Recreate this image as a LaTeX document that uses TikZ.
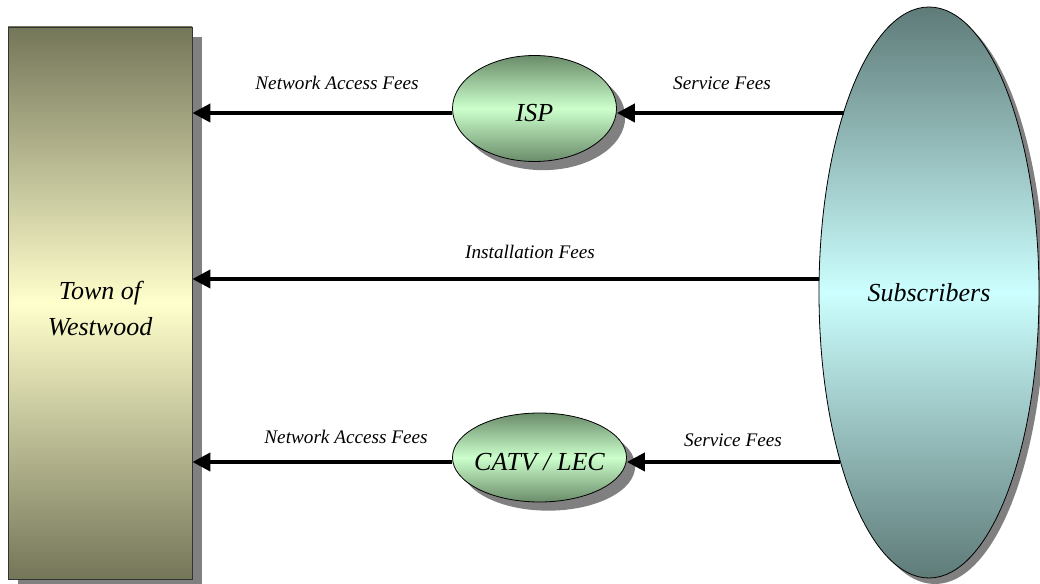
\documentclass[tikz,border=0pt]{standalone}
\usepackage{fontspec}
\setmainfont{Liberation Serif}
\usetikzlibrary{shapes.geometric,arrows.meta,shadows}

\definecolor{olivedark}{HTML}{747659}
\definecolor{olivelight}{HTML}{FFFFCC}
\definecolor{greendark}{HTML}{6A8C6A}
\definecolor{greenlight}{HTML}{CCFFCC}
\definecolor{tealdark}{HTML}{5E7B78}
\definecolor{teallight}{HTML}{CCFFFF}
\definecolor{shadowgray}{HTML}{808080}

\begin{document}
\begin{tikzpicture}[x=0.75pt,y=-0.75pt,
  flow/.style={line width=3pt,-{Triangle[length=13.5pt,width=13.5pt]}},
  fee/.style={font=\fontsize{14.4}{17}\selectfont\itshape, anchor=base, inner sep=0pt},
  bigtext/.style={font=\fontsize{19.5}{27}\selectfont\itshape},
  party/.style={bigtext, draw=black, line width=0.6pt, inner sep=0pt},
  shade3/.style 2 args={top color=#1, bottom color=#1, middle color=#2},
  shadowed/.style={drop shadow={shadow xshift=#1, shadow yshift=-#1, fill=shadowgray, opacity=1}},
  name below/.style 2 args={label={[bigtext, align=center, yshift=-#1]center:#2}},
]
\useasboundingbox (0,0) rectangle (1040,584);

% Town (left block)
\node[party, draw=black!80, rectangle, minimum width=138pt, minimum height=414pt,
      shade3={olivedark}{olivelight}, shadowed=7.5pt,
      name below={4.5pt}{Town of\\Westwood}]
  (town) at (100,303) {};

% Intermediaries (their names sit on the flow line, a little below centre)
\node[party, ellipse, minimum width=123pt, minimum height=79.5pt,
      shade3={greendark}{greenlight}, shadowed=6.5pt,
      name below={3.4pt}{ISP}] (isp) at (534.5,108.5) {};
\node[party, ellipse, minimum width=130.5pt, minimum height=66.75pt,
      shade3={greendark}{greenlight}, shadowed=6.5pt,
      name below={3.4pt}{CATV / LEC}] (catv) at (539.5,457.5) {};

% Subscribers (right block)
\node[party, ellipse, minimum width=165pt, minimum height=428.25pt,
      shade3={tealdark}{teallight}, shadowed=4.5pt] (subs) at (929,292.5) {Subscribers};

% rows of the three money flows
\coordinate (toprow) at (530,113);
\coordinate (midrow) at (530,279);
\coordinate (botrow) at (530,462);

% Money flows
\draw[flow] (subs.115.3 |- toprow) -- (isp.east |- toprow);
\draw[flow] (isp.west |- toprow) -- (town.east |- toprow);
\draw[flow] (subs.172.9 |- midrow) -- (town.east |- midrow);
\draw[flow] (subs.242.6 |- botrow) -- (catv.east |- botrow);
\draw[flow] (catv.west |- botrow) -- (town.east |- botrow);

% Flow labels
\node[fee] (l1) at (337,90) {Network Access Fees};
\node[fee] (l2) at (722,90) {Service Fees};
\node[fee] (l3) at (530,259) {Installation Fees};
\node[fee] (l4) at (346,444) {Network Access Fees};
\node[fee] (l5) at (733,447) {Service Fees};
\end{tikzpicture}
\end{document}
